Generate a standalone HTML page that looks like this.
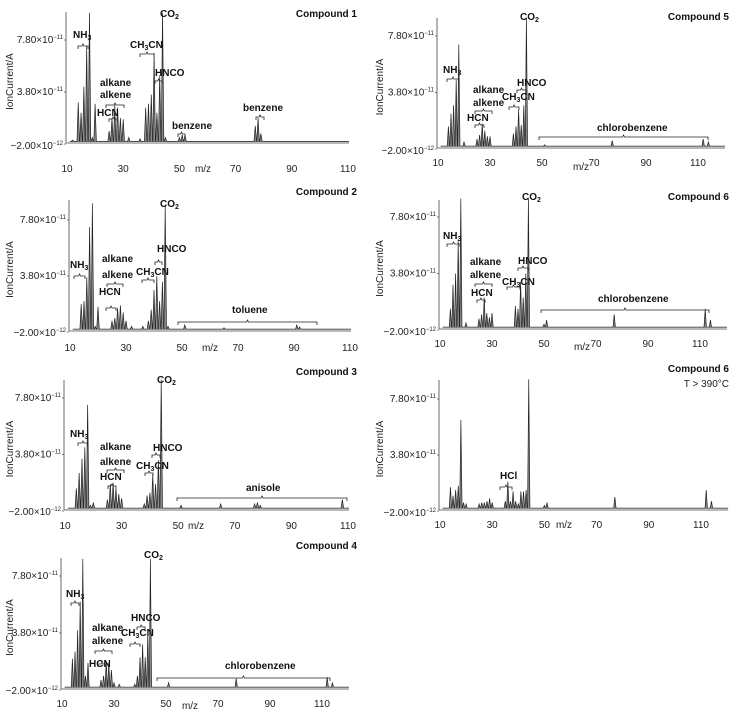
<!DOCTYPE html>
<html><head><meta charset="utf-8"><style>
html,body{margin:0;padding:0;background:#fff}
svg{display:block;font-family:"Liberation Sans",Arial,sans-serif}
.t{font-size:10px;fill:#222}
.b{font-size:10px;font-weight:bold;fill:#111}
</style></head><body>
<svg id="fig" width="737" height="718" viewBox="0 0 737 718"></svg>
<script>
// ---- data (m/z, ion current in 1e-11 A) ----
const mz1=[12,14,15,16,17,18,19,20,25,26,27,28,29,30,32,36,38,39,40,41,42,43,44,45,50,51,52,77,78,79];
const val1=[0.1,3.0,2.2,4.2,7.3,9.9,0.3,2.9,0.8,1.8,2.8,2.6,1.8,1.7,0.3,0.2,2.6,2.9,3.6,6.8,2.2,5.1,9.9,0.3,0.3,0.5,0.5,1.2,1.8,0.6];
const mz2=[14,15,16,17,18,19,20,25,26,27,28,29,30,32,36,38,39,40,41,42,43,44,45,51,65,91,92];
const val2=[1.8,2.0,3.7,7.3,9.0,0.2,1.6,0.6,0.8,1.5,1.7,1.2,0.6,0.2,0.2,0.6,1.4,2.8,3.8,2.0,3.4,8.9,0.2,0.3,0.1,0.3,0.15];
const mz3=[14,15,16,17,18,19,20,25,26,27,28,29,30,38,39,40,41,42,43,44,51,65,77,78,79,108];
const val3=[1.4,2.5,3.5,4.3,7.3,0.2,0.4,0.6,1.7,1.8,1.4,1.0,0.7,0.3,0.9,1.1,2.4,1.7,3.4,9.1,0.2,0.3,0.3,0.4,0.2,0.6];
const mz4=[14,15,16,17,18,19,20,25,26,27,28,29,30,32,38,39,40,41,42,43,44,51,77,112,114];
const val4=[2.0,2.5,4.0,6.0,9.0,0.8,1.7,0.5,0.8,1.8,1.7,1.2,0.3,0.2,0.2,0.8,2.1,3.0,2.1,3.8,9.0,0.3,0.6,0.7,0.3];
const mz5=[14,15,16,17,18,20,25,26,27,28,29,30,39,40,41,42,43,44,51,77,112,114];
const val5=[1.4,2.3,2.9,4.7,7.2,0.3,0.5,0.8,1.6,1.1,0.7,0.7,0.9,1.4,2.6,1.5,2.9,9.1,0.1,0.4,0.5,0.3];
const mz6=[14,15,16,17,18,20,25,26,27,28,29,30,39,40,41,42,43,44,50,51,77,112,114];
const val6=[1.3,3.0,3.8,6.2,9.1,0.3,0.6,0.9,2.1,1.0,0.7,1.0,1.5,1.3,3.2,2.1,3.8,9.1,0.2,0.5,0.9,1.3,0.5];
const mz7=[14,15,16,17,18,19,20,25,26,27,28,29,30,35,36,37,38,39,40,41,42,43,44,50,51,77,112,114];
const val7=[1.5,0.9,1.3,1.6,6.3,0.4,0.3,0.3,0.4,0.4,0.5,0.7,0.4,0.5,1.9,0.5,1.2,0.5,0.3,1.2,1.2,1.3,9.2,0.2,0.4,0.8,1.3,0.5];
const yTickVals=[7.8,3.8,-0.2];
const yTickMant=["7.80","3.80","\u22122.00"];
const yTickExp=["\u221211","\u221211","\u221212"];
const xTicks=[10,30,50,70,90,110];

const NS="http://www.w3.org/2000/svg";
const svg=document.getElementById('fig');
function mk(tag,attrs,parent){const e=document.createElementNS(NS,tag);for(const k in attrs)e.setAttribute(k,attrs[k]);(parent||svg).appendChild(e);return e;}
function txt(s,x,y,cls,anchor,parent){const e=mk('text',{x:x,y:y,class:cls,'text-anchor':anchor||'start'},parent);e.textContent=s;return e;}

const panels=[
 {id:1,mz:mz1,val:val1,x10:67,x110:348,xmax:110,yTop:12,y78:40,yLow:144,lab:146,tickY:172,mzx:203,mzy:172,title:"Compound 1",tx:357,ty:17,axisX:8},
 {id:2,mz:mz2,val:val2,x10:70,x110:350,xmax:110,yTop:200,y78:220,yLow:332,lab:333,tickY:351,mzx:210,mzy:351,title:"Compound 2",tx:357,ty:195,axisX:8},
 {id:3,mz:mz3,val:val3,x10:65,x110:348,xmax:110,yTop:380,y78:398,yLow:511,lab:512,tickY:529,mzx:196,mzy:529,title:"Compound 3",tx:357,ty:375,axisX:8},
 {id:4,mz:mz4,val:val4,x10:62,x110:322,xmax:120,yTop:558,y78:576,yLow:690,lab:691,tickY:707,mzx:190,mzy:709,title:"Compound 4",tx:357,ty:549,axisX:8},
 {id:5,mz:mz5,val:val5,x10:438,x110:698,xmax:120,yTop:18,y78:36,yLow:149,lab:151,tickY:166,mzx:581,mzy:170,title:"Compound 5",tx:729,ty:20,axisX:378},
 {id:6,mz:mz6,val:val6,x10:440,x110:700,xmax:120,yTop:200,y78:217,yLow:330,lab:332,tickY:347,mzx:582,mzy:350,title:"Compound 6",tx:729,ty:200,axisX:378},
 {id:7,mz:mz7,val:val7,x10:440,x110:701,xmax:120,yTop:380,y78:399,yLow:511,lab:513,tickY:528,mzx:564,mzy:528,title:"Compound 6",tx:729,ty:372,axisX:378}
];

function brace(g,x1,x2,y){mk('path',{d:`M${x1},${y+3} L${x1},${y} L${(x1+x2)/2-1},${y} L${(x1+x2)/2},${y-2} L${(x1+x2)/2+1},${y} L${x2},${y} L${x2},${y+3}`,fill:'none',stroke:'#222','stroke-width':0.8},g);}
function sub(g,base,s,x,y,rest){const t=mk('text',{x:x,y:y,class:'b'},g);t.appendChild(document.createTextNode(base));const ts=mk('tspan',{'font-size':'7','dy':'2'},t);ts.textContent=s;if(arguments.length>5){const r=mk('tspan',{'dy':'-2'},t);r.textContent=rest;}return t;}

panels.forEach(p=>{
  const g=mk('g',{});
  
  
  const sx=v=>p.x10+(v-10)*(p.x110-p.x10)/100;
  const sy=v=>p.y78+(7.8-v)*(p.yLow-p.y78)/8;
  const xr=sx(p.xmax)+1, y0=sy(-0.2)-1;
  const base=mk('line',{x1:sx(11),y1:sy(0),x2:xr,y2:sy(0),stroke:'#333','stroke-width':0.9},g);
  
  
  p.mz.forEach((m,i)=>{
    const w=0.45*(p.x110-p.x10)/100;
    const pk=mk('path',{d:`M${sx(m)-w},${sy(0)} L${sx(m)},${sy(p.val[i])} L${sx(m)+w},${sy(0)}`,fill:'#8a8a8a',stroke:'#222','stroke-width':0.7},g);
    
    
  });
  mk('line',{x1:p.x10-1,y1:p.yTop,x2:p.x10-1,y2:y0,stroke:'#444','stroke-width':0.8},g);
  mk('line',{x1:p.x10-1,y1:y0,x2:xr,y2:y0,stroke:'#444','stroke-width':0.8},g);
  yTickVals.forEach((v,i)=>{
    const t=mk('text',{x:p.x10-4,y:(i==2?p.lab:sy(v))+3,class:'t','text-anchor':'end'},g);
    t.appendChild(document.createTextNode(yTickMant[i]+"\u00d710"));
    const e=mk('tspan',{'font-size':'6','dy':'-4'},t);e.textContent=yTickExp[i];
    
    
    mk('line',{x1:p.x10-3,y1:sy(v),x2:p.x10-1,y2:sy(v),stroke:'#444','stroke-width':0.7},g);
  });
  xTicks.forEach(v=>{
    const t=txt(String(v),sx(v),p.tickY,'t','middle',g);
    
    
  });
  const mzl=txt('m/z',p.mzx,p.mzy,'t','middle',g);
  
  
  const yt=mk('text',{x:0,y:0,class:'t','text-anchor':'middle',transform:`translate(${p.axisX+5},${(p.yTop+y0)/2+4}) rotate(-90)`},g);
  yt.textContent='IonCurrent/A';
  
  
  const tt=txt(p.title,p.tx,p.ty,'b','end',g);
  
  
  p.g=g;
});

const A=panels.map(p=>p.g);
// panel 1
sub(A[0],'CO','2',160,17);
sub(A[0],'NH','3',73,38); brace(A[0],78,88,46);
sub(A[0],'CH','3',130,48,'CN'); brace(A[0],140,154,54);
txt('HNCO',155,76,'b','start',A[0]); brace(A[0],155,162,81);
txt('alkane',100,86,'b','start',A[0]); txt('alkene',100,98,'b','start',A[0]); brace(A[0],106,124,105);
txt('HCN',97,116,'b','start',A[0]); brace(A[0],109,117,119);
txt('benzene',172,129,'b','start',A[0]); brace(A[0],178,185,134);
txt('benzene',243,111,'b','start',A[0]); brace(A[0],256,264,117);
// panel 2
sub(A[1],'CO','2',160,207);
sub(A[1],'NH','3',70,268); brace(A[1],74,85,276);
txt('alkane',102,262,'b','start',A[1]); txt('alkene',102,278,'b','start',A[1]); brace(A[1],107,123,284);
txt('HCN',99,295,'b','start',A[1]); brace(A[1],106,116,308);
sub(A[1],'CH','3',136,275,'CN'); brace(A[1],142,154,280);
txt('HNCO',157,252,'b','start',A[1]); brace(A[1],155,162,262);
txt('toluene',232,313,'b','start',A[1]); brace(A[1],178,317,322);
// panel 3
sub(A[2],'CO','2',157,383);
sub(A[2],'NH','3',70,437); brace(A[2],78,88,443);
txt('alkane',100,450,'b','start',A[2]); txt('alkene',100,465,'b','start',A[2]); brace(A[2],107,124,470);
txt('HCN',100,480,'b','start',A[2]); brace(A[2],108,116,486);
sub(A[2],'CH','3',136,469,'CN'); brace(A[2],145,153,473);
txt('HNCO',153,451,'b','start',A[2]); brace(A[2],152,160,455);
txt('anisole',246,491,'b','start',A[2]); brace(A[2],177,347,498);
// panel 4
sub(A[3],'CO','2',144,558);
sub(A[3],'NH','3',66,597); brace(A[3],71,79,603);
txt('alkane',92,631,'b','start',A[3]); txt('alkene',92,644,'b','start',A[3]); brace(A[3],95,112,651);
txt('HCN',89,667,'b','start',A[3]); brace(A[3],98,106,664);
sub(A[3],'CH','3',121,636,'CN'); brace(A[3],130,140,644);
txt('HNCO',131,621,'b','start',A[3]); brace(A[3],137,145,627);
txt('chlorobenzene',225,669,'b','start',A[3]); brace(A[3],157,330,678);
// panel 5
sub(A[4],'CO','2',520,20);
sub(A[4],'NH','3',443,73); brace(A[4],447,459,79);
txt('alkane',473,93,'b','start',A[4]); txt('alkene',473,106,'b','start',A[4]); brace(A[4],475,492,111);
txt('HCN',467,121,'b','start',A[4]); brace(A[4],475,484,125);
sub(A[4],'CH','3',502,100,'CN'); brace(A[4],509,519,107);
txt('HNCO',517,86,'b','start',A[4]); brace(A[4],517,526,90);
txt('chlorobenzene',597,131,'b','start',A[4]); brace(A[4],539,708,137);
// panel 6
sub(A[5],'CO','2',522,200);
sub(A[5],'NH','3',443,239); brace(A[5],447,460,244);
txt('alkane',470,265,'b','start',A[5]); txt('alkene',470,278,'b','start',A[5]); brace(A[5],475,492,284);
txt('HCN',471,296,'b','start',A[5]); brace(A[5],477,485,300);
sub(A[5],'CH','3',502,285,'CN'); brace(A[5],507,520,287);
txt('HNCO',518,264,'b','start',A[5]); brace(A[5],518,528,268);
txt('chlorobenzene',598,302,'b','start',A[5]); brace(A[5],541,709,310);
// panel 7
txt('T > 390\u00b0C',729,387,'t','end',A[6]);
txt('HCl',500,479,'b','start',A[6]); brace(A[6],500,512,487);
</script>
</body></html>
